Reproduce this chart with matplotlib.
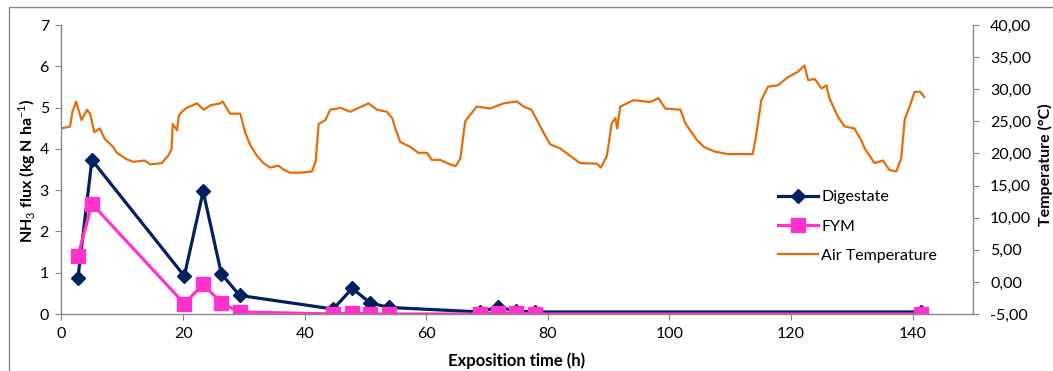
import numpy as np
import matplotlib
matplotlib.use("Agg")
import matplotlib.pyplot as plt
from matplotlib.patches import Rectangle
from matplotlib.ticker import FuncFormatter

plt.rcParams['font.family'] = ['Lato', 'DejaVu Sans']
plt.rcParams['mathtext.fontset'] = 'custom'
plt.rcParams['mathtext.rm'] = 'Lato'
plt.rcParams['mathtext.bf'] = 'Lato:bold'

# flux sampling times (h)
hours = [2.7, 5.0, 20.2, 23.3, 26.3, 29.3, 44.7, 47.8, 50.8, 53.8,
         68.8, 71.8, 74.8, 77.8, 141.3]
digestate = [0.87, 3.73, 0.92, 2.97, 0.97, 0.45, 0.12, 0.62, 0.27, 0.16,
             0.05, 0.17, 0.07, 0.05, 0.05]
fym = [1.40, 2.67, 0.25, 0.72, 0.27, 0.05, 0.00, 0.02, 0.00, 0.00,
       0.00, 0.03, 0.02, 0.00, 0.00]

# air temperature record (h, degC)
t_hours = [0, 1.4, 1.8, 2.4, 2.7, 3.3, 4.2, 4.7, 5.4, 6.3, 7.1, 8.5, 9.1,
           10.7, 11.8, 13.7, 14.6, 16.5, 17.6, 18.1, 18.3, 19.0, 19.3, 19.8,
           20.6, 22.3, 23.4, 24.5, 26.1, 26.5, 27.7, 29.4, 30.2, 31.0, 32.1,
           33.2, 34.3, 35.7, 36.5, 37.6, 39.3, 41.2, 41.8, 42.3, 43.4, 44.2,
           45.9, 47.5, 50.5, 51.9, 53.5, 54.4, 54.9, 55.7, 57.4, 58.7, 60.1,
           60.9, 62.3, 63.4, 64.8, 65.6, 66.4, 67.2, 68.3, 70.5, 72.7, 74.9,
           76.0, 77.3, 78.2, 79.3, 80.4, 82.0, 83.7, 85.3, 88.1, 88.7, 89.7,
           90.5, 91.1, 91.4, 91.9, 94.1, 96.8, 98.2, 99.3, 101.8, 102.6,
           104.5, 105.7, 107.4, 109.6, 111.8, 113.7, 114.3, 115.1, 116.2,
           117.8, 119.5, 121.1, 122.2, 122.8, 123.9, 125.0, 125.8, 126.3,
           127.7, 128.8, 130.4, 131.5, 132.1, 133.7, 135.1, 136.2, 137.3,
           138.1, 138.7, 139.5, 140.3, 141.2, 141.9]
air_temp = [23.9, 24.2, 26.5, 28.1, 27.1, 25.2, 26.8, 26.2, 23.3, 23.9, 22.3,
            21.0, 20.1, 19.1, 18.7, 18.9, 18.3, 18.5, 19.7, 20.7, 24.6, 23.6,
            25.9, 26.5, 27.1, 27.8, 26.8, 27.5, 27.8, 28.1, 26.2, 26.2, 23.3,
            21.4, 19.7, 18.5, 17.8, 18.1, 17.5, 17.0, 17.0, 17.2, 18.8, 24.6,
            25.2, 26.8, 27.1, 26.5, 27.8, 26.8, 26.5, 25.5, 23.9, 21.8, 21.0,
            20.1, 20.1, 19.0, 19.0, 18.5, 18.0, 19.2, 25.0, 26.0, 27.3, 27.0,
            27.8, 28.1, 27.3, 26.8, 25.2, 23.2, 21.4, 20.8, 19.6, 18.5, 18.4,
            17.8, 19.6, 24.7, 25.5, 23.9, 27.3, 28.3, 28.0, 28.6, 27.0, 26.8,
            24.7, 22.1, 21.0, 20.3, 19.9, 19.9, 19.9, 23.1, 28.3, 30.4, 30.6,
            31.9, 32.7, 33.7, 31.4, 31.6, 30.1, 30.6, 28.6, 25.7, 24.2, 23.9,
            22.1, 20.8, 18.5, 18.9, 17.4, 17.2, 19.2, 25.4, 27.3, 29.6, 29.6,
            28.8]

navy = '#002060'
pink = '#FF33CC'
orange = '#E46C0A'
grey = '#868686'

fig = plt.figure(figsize=(10.53, 3.71), dpi=100)
fig.patches.append(Rectangle((9 / 1053, -0.2), 1.2, 0.981 + 0.2,
                             transform=fig.transFigure, fill=False,
                             edgecolor=grey, linewidth=1))

ax = fig.add_axes([0.0584, 0.1536, 0.8661, 0.779])
ax2 = ax.twinx()

l3, = ax2.plot(t_hours, air_temp, color=orange, linewidth=1.6,
               label='Air Temperature')
l1, = ax.plot(hours, digestate, color=navy, linewidth=2.3, marker='D',
              markersize=7, label='Digestate')
l2, = ax.plot(hours, fym, color=pink, linewidth=2.3, marker='s',
              markersize=9.5, label='FYM')
ax.set_zorder(ax2.get_zorder() + 1)
ax.patch.set_visible(False)

ax.set_xlim(0, 150)
ax.set_xticks(range(0, 141, 20))
ax.set_ylim(0, 7)
ax.set_yticks(range(0, 8))
ax2.set_ylim(-5, 40)
ax2.set_yticks(range(-5, 41, 5))
ax2.yaxis.set_major_formatter(FuncFormatter(lambda v, p: f'{v:.2f}'.replace('.', ',')))

for a in (ax, ax2):
    for s in a.spines.values():
        s.set_color(grey)
        s.set_linewidth(1)
    a.spines['top'].set_visible(False)
ax.spines['right'].set_visible(False)
ax2.spines['left'].set_visible(False)
ax2.spines['bottom'].set_visible(False)

ax.tick_params(axis='both', direction='out', length=4, color=grey,
               labelsize=11.5, pad=5)
ax2.tick_params(axis='y', direction='out', length=4, color=grey,
                labelsize=11.5, pad=8)

fig.text(517 / 1053, 1 - 361 / 371, 'Exposition time (h)', fontsize=12,
         fontweight='bold', ha='center', va='center')
fig.text(27 / 1053, 1 - 171 / 371, r'NH$_{\mathrm{3}}$ flux (kg N ha$^{\mathrm{-1}}$)',
         fontsize=11.5, fontweight='bold', rotation=90, ha='center', va='center')
fig.text(1045 / 1053, 1 - 165 / 371, 'Temperature (°C)', fontsize=11.5,
         fontweight='bold', rotation=90, ha='center', va='center')

fig.legend(handles=[l1, l2, l3], loc='upper left',
           bbox_to_anchor=(778 / 1053, 1 - 190 / 371), frameon=False,
           fontsize=11.5, handlelength=2.5, handletextpad=0.2,
           labelspacing=0.95, borderpad=0, borderaxespad=0)

fig.savefig('out.png', dpi=100)
